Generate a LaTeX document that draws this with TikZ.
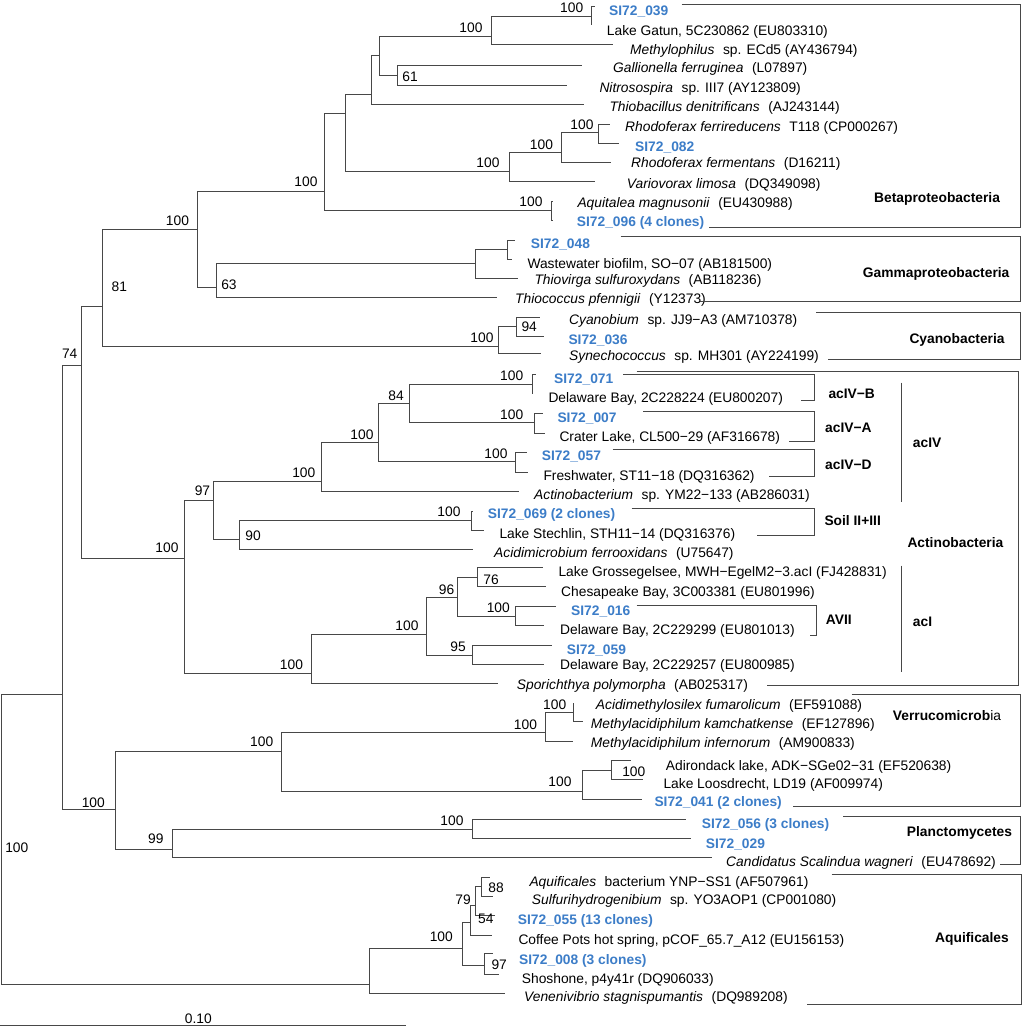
\documentclass[tikz,border=0pt]{standalone}
\usepackage{fontspec}
\setmainfont{Liberation Sans}
\definecolor{cloneblue}{RGB}{60,125,200}
\newcommand{\treefont}{\fontsize{13.8}{16}\selectfont}
\tikzstyle{branch} = [draw=black!72, line width=0.9pt]
\tikzstyle{taxon} = [anchor=base west, inner sep=0pt]
\tikzstyle{clone} = [taxon, text=cloneblue, font=\treefont\bfseries]
\tikzstyle{boot} = [anchor=base, inner sep=0pt]
\tikzstyle{clade} = [anchor=base west, inner sep=0pt, font=\treefont\bfseries]
\newcommand{\gap}{\hspace{8.5pt}}

\begin{document}
\begin{tikzpicture}[x=1pt, y=-1pt, font=\treefont]
\useasboundingbox (0,0) rectangle (1029,1027);
\fill[white] (0,0) rectangle (1029,1027);

% inner nodes of the tree
\coordinate (r) at (1,847);
\coordinate (nTop) at (62.7,694);
\coordinate (nAq) at (369.3,984);
\coordinate (n74) at (81.7,365);
\coordinate (nPV) at (115.7,809.3);
\coordinate (n81) at (102.3,306.7);
\coordinate (nAct) at (184,558);
\coordinate (nPro) at (197.7,229.3);
\coordinate (nCy) at (498,346);
\coordinate (nBeta) at (324.3,191);
\coordinate (n63) at (216.7,287.3);
\coordinate (nB1) at (345.3,113.3);
\coordinate (nAqt) at (551,210);
\coordinate (nB2) at (371.7,94.3);
\coordinate (nRh) at (509.3,171.7);
\coordinate (nB3) at (379.3,55);
\coordinate (nMe) at (491,36);
\coordinate (n61) at (397,75);
\coordinate (n039) at (591.7,16);
\coordinate (nRh2) at (561.7,152.7);
\coordinate (nRf) at (598.3,132.7);
\coordinate (nG1) at (475.7,263);
\coordinate (n048) at (507,249);
\coordinate (n94) at (516,326.5);
\coordinate (n97) at (213.3,500);
\coordinate (nAcI0) at (311.7,673);
\coordinate (nIV) at (321.7,481);
\coordinate (n90) at (239,539);
\coordinate (nIV2) at (378.3,442.3);
\coordinate (n84) at (409.3,403.5);
\coordinate (n057) at (515,461.7);
\coordinate (n071) at (532,384.3);
\coordinate (n007) at (534.3,422.7);
\coordinate (nSoil) at (471,520);
\coordinate (nAcI) at (426.7,634);
\coordinate (n96) at (457.7,597.3);
\coordinate (n95) at (472.7,655);
\coordinate (n76) at (477.7,577.7);
\coordinate (nAVII) at (515.5,616.7);
\coordinate (nVer) at (281.7,751.7);
\coordinate (n99) at (172.3,849);
\coordinate (nV1) at (545,732.7);
\coordinate (nV2) at (582.3,791);
\coordinate (nV3) at (573.3,712.7);
\coordinate (nV4) at (611.7,770);
\coordinate (nPl) at (472.7,829.3);
\coordinate (nAq1) at (462.3,948);
\coordinate (n54) at (470,922);
\coordinate (n97b) at (484,965);
\coordinate (n79) at (475,905);
\coordinate (n88) at (481.7,886.7);

% leaves: branch tip, then its label
\coordinate (l1) at (595,6);        \node[clone] (t1) at (609,16) {SI72\_039};
\coordinate (l2) at (591.7,25);     \node[taxon] (t2) at (606.7,36) {Lake Gatun, 5C230862 (EU803310)};
\coordinate (l3) at (613.3,44);     \node[taxon] (t3) at (630,55) {\textit{Methylophilus}\gap sp. ECd5 (AY436794)};
\coordinate (l4) at (581.7,65.7);   \node[taxon] (t4) at (613,73) {\textit{Gallionella ferruginea}\gap (L07897)};
\coordinate (l5) at (566.7,85.3);   \node[taxon] (t5) at (599.3,93) {\textit{Nitrosospira}\gap sp. III7 (AY123809)};
\coordinate (l6) at (584,104.3);    \node[taxon] (t6) at (609.3,112) {\textit{Thiobacillus denitrificans}\gap (AJ243144)};
\coordinate (l7) at (610,124);      \node[taxon] (t7) at (625,132) {\textit{Rhodoferax ferrireducens}\gap T118 (CP000267)};
\coordinate (l8) at (619.3,143.3);  \node[clone] (t8) at (635,152) {SI72\_082};
\coordinate (l9) at (611,162.5);    \node[taxon] (t9) at (631,168) {\textit{Rhodoferax fermentans}\gap (D16211)};
\coordinate (l10) at (595,181.7);   \node[taxon] (t10) at (626.7,188.7) {\textit{Variovorax limosa}\gap (DQ349098)};
\coordinate (l11) at (553,201);     \node[taxon] (t11) at (577.3,207.3) {\textit{Aquitalea magnusonii}\gap (EU430988)};
\coordinate (l12) at (553,220);     \node[clone] (t12) at (576.7,226.7) {SI72\_096 (4 clones)};
\coordinate (l13) at (515,240);     \node[clone] (t13) at (530.7,248.3) {SI72\_048};
\coordinate (l14) at (511.7,259.3); \node[taxon] (t14) at (527.3,268.3) {Wastewater biofilm, SO−07 (AB181500)};
\coordinate (l15) at (518.3,278.5); \node[taxon] (t15) at (534.3,285) {\textit{Thiovirga sulfuroxydans}\gap (AB118236)};
\coordinate (l16) at (496.7,297.7); \node[taxon] (t16) at (515,303.3) {\textit{Thiococcus pfennigii}\gap (Y12373)};
\coordinate (l17) at (540,317.5);   \node[taxon] (t17) at (569,325) {\textit{Cyanobium}\gap sp. JJ9−A3 (AM710378)};
\coordinate (l18) at (544.3,336.5); \node[clone] (t18) at (568.3,344.3) {SI72\_036};
\coordinate (l19) at (540.7,353);   \node[taxon] (t19) at (569,360.7) {\textit{Synechococcus}\gap sp. MH301 (AY224199)};
\coordinate (l20) at (536,374);     \node[clone] (t20) at (554,383.3) {SI72\_071};
\coordinate (l21) at (532,394);     \node[taxon] (t21) at (548.3,402.7) {Delaware Bay, 2C228224 (EU800207)};
\coordinate (l22) at (543.3,413.5); \node[clone] (t22) at (557.3,422.3) {SI72\_007};
\coordinate (l23) at (545,433.3);   \node[taxon] (t23) at (559.3,441) {Crater Lake, CL500−29 (AF316678)};
\coordinate (l24) at (526.7,452.7); \node[clone] (t24) at (541.7,460.7) {SI72\_057};
\coordinate (l25) at (528.3,472.3); \node[taxon] (t25) at (543.3,480) {Freshwater, ST11−18 (DQ316362)};
\coordinate (l26) at (519.3,491.7); \node[taxon] (t26) at (534,499.3) {\textit{Actinobacterium}\gap sp. YM22−133 (AB286031)};
\coordinate (l27) at (472.7,511);   \node[clone] (t27) at (487.7,518.3) {SI72\_069 (2 clones)};
\coordinate (l28) at (484,530);     \node[taxon] (t28) at (499.3,538.3) {Lake Stechlin, STH11−14 (DQ316376)};
\coordinate (l29) at (472.7,549.3); \node[taxon] (t29) at (494,557.3) {\textit{Acidimicrobium ferrooxidans}\gap (U75647)};
\coordinate (l30) at (542.7,567.7); \node[taxon] (t30) at (558.3,576.7) {Lake Grossegelsee, MWH−EgelM2−3.acI (FJ428831)};
\coordinate (l31) at (546,586.7);   \node[taxon] (t31) at (561,596) {Chesapeake Bay, 3C003381 (EU801996)};
\coordinate (l32) at (556,606.7);   \node[clone] (t32) at (571,615) {SI72\_016};
\coordinate (l33) at (544.3,625);   \node[taxon] (t33) at (560,634.3) {Delaware Bay, 2C229299 (EU801013)};
\coordinate (l34) at (551.7,645);   \node[clone] (t34) at (566.7,654) {SI72\_059};
\coordinate (l35) at (544.3,664);   \node[taxon] (t35) at (560,669.3) {Delaware Bay, 2C229257 (EU800985)};
\coordinate (l36) at (497.7,683.3); \node[taxon] (t36) at (516.7,689) {\textit{Sporichthya polymorpha}\gap (AB025317)};
\coordinate (l37) at (573.3,703.3); \node[taxon] (t37) at (595.7,709) {\textit{Acidimethylosilex fumarolicum}\gap (EF591088)};
\coordinate (l38) at (583.3,721.7); \node[taxon] (t38) at (590.7,728.3) {\textit{Methylacidiphilum kamchatkense}\gap (EF127896)};
\coordinate (l39) at (573.3,741);   \node[taxon] (t39) at (590.7,747.7) {\textit{Methylacidiphilum infernorum}\gap (AM900833)};
\coordinate (l40) at (631,760.7);   \node[taxon] (t40) at (665.7,770.7) {Adirondack lake, ADK−SGe02−31 (EF520638)};
\coordinate (l41) at (643.3,779.3); \node[taxon] (t41) at (663.3,788.3) {Lake Loosdrecht, LD19 (AF009974)};
\coordinate (l42) at (641.7,799);   \node[clone] (t42) at (654.3,806.7) {SI72\_041 (2 clones)};
\coordinate (l43) at (685.7,819);   \node[clone] (t43) at (701.7,828.3) {SI72\_056 (3 clones)};
\coordinate (l44) at (691,838.3);   \node[clone] (t44) at (705.7,848.3) {SI72\_029};
\coordinate (l45) at (711.7,857);   \node[taxon] (t45) at (726,866) {\textit{Candidatus Scalindua wagneri}\gap (EU478692)};
\coordinate (l46) at (490,877.3);   \node[taxon] (t46) at (529.3,886) {\textit{Aquificales}\gap bacterium YNP−SS1 (AF507961)};
\coordinate (l47) at (493.3,896);   \node[taxon] (t47) at (531.7,904.3) {\textit{Sulfurihydrogenibium}\gap sp. YO3AOP1 (CP001080)};
\coordinate (l48) at (495,915);     \node[clone] (t48) at (517.7,924) {SI72\_055 (13 clones)};
\coordinate (l49) at (491.7,935);   \node[taxon] (t49) at (518.3,944.3) {Coffee Pots hot spring, pCOF\_65.7\_A12 (EU156153)};
\coordinate (l50) at (493.3,953.3); \node[clone] (t50) at (519,964) {SI72\_008 (3 clones)};
\coordinate (l51) at (499.3,974);   \node[taxon] (t51) at (521.7,983.3) {Shoshone, p4y41r (DQ906033)};
\coordinate (l52) at (505,993.3);   \node[taxon] (t52) at (524,1001.7) {\textit{Venenivibrio stagnispumantis}\gap (DQ989208)};

% branches
\draw[branch] (r) |- (nTop) (r) |- (nAq);
\draw[branch] (nTop) |- (n74) (nTop) |- (nPV);
\draw[branch] (n74) |- (n81) (n74) |- (nAct);
\draw[branch] (n81) |- (nPro) (n81) |- (nCy);
\draw[branch] (nPro) |- (nBeta) (nPro) |- (n63);
\draw[branch] (nBeta) |- (nB1) (nBeta) |- (nAqt);
\draw[branch] (nB1) |- (nB2) (nB1) |- (nRh);
\draw[branch] (nB2) |- (nB3) (nB2) |- (l6);
\draw[branch] (nB3) |- (nMe) (nB3) |- (n61);
\draw[branch] (nMe) |- (n039) (nMe) |- (l3);
\draw[branch] (n039) |- (l1) (n039) |- (l2);
\draw[branch] (n61) |- (l4) (n61) |- (l5);
\draw[branch] (nRh) |- (nRh2) (nRh) |- (l10);
\draw[branch] (nRh2) |- (nRf) (nRh2) |- (l9);
\draw[branch] (nRf) |- (l7) (nRf) |- (l8);
\draw[branch] (nAqt) |- (l11) (nAqt) |- (l12);
\draw[branch] (n63) |- (nG1) (n63) |- (l16);
\draw[branch] (nG1) |- (n048) (nG1) |- (l15);
\draw[branch] (n048) |- (l13) (n048) |- (l14);
\draw[branch] (nCy) |- (n94) (nCy) |- (l19);
\draw[branch] (n94) |- (l17) (n94) |- (l18);
\draw[branch] (nAct) |- (n97) (nAct) |- (nAcI0);
\draw[branch] (n97) |- (nIV) (n97) |- (n90);
\draw[branch] (nIV) |- (nIV2) (nIV) |- (l26);
\draw[branch] (nIV2) |- (n84) (nIV2) |- (n057);
\draw[branch] (n84) |- (n071) (n84) |- (n007);
\draw[branch] (n071) |- (l20) (n071) |- (l21);
\draw[branch] (n007) |- (l22) (n007) |- (l23);
\draw[branch] (n057) |- (l24) (n057) |- (l25);
\draw[branch] (n90) |- (nSoil) (n90) |- (l29);
\draw[branch] (nSoil) |- (l27) (nSoil) |- (l28);
\draw[branch] (nAcI0) |- (nAcI) (nAcI0) |- (l36);
\draw[branch] (nAcI) |- (n96) (nAcI) |- (n95);
\draw[branch] (n96) |- (n76) (n96) |- (nAVII);
\draw[branch] (n76) |- (l30) (n76) |- (l31);
\draw[branch] (nAVII) |- (l32) (nAVII) |- (l33);
\draw[branch] (n95) |- (l34) (n95) |- (l35);
\draw[branch] (nPV) |- (nVer) (nPV) |- (n99);
\draw[branch] (nVer) |- (nV1) (nVer) |- (nV2);
\draw[branch] (nV1) |- (nV3) (nV1) |- (l39);
\draw[branch] (nV3) |- (l37) (nV3) |- (l38);
\draw[branch] (nV2) |- (nV4) (nV2) |- (l42);
\draw[branch] (nV4) |- (l40) (nV4) |- (l41);
\draw[branch] (n99) |- (nPl) (n99) |- (l45);
\draw[branch] (nPl) |- (l43) (nPl) |- (l44);
\draw[branch] (nAq) |- (nAq1) (nAq) |- (l52);
\draw[branch] (nAq1) |- (n54) (nAq1) |- (n97b);
\draw[branch] (n54) |- (n79) (n54) |- (l49);
\draw[branch] (n79) |- (n88) (n79) |- (l48);
\draw[branch] (n88) |- (l46) (n88) |- (l47);
\draw[branch] (n97b) |- (l50) (n97b) |- (l51);

% bootstrap values
\node[boot] (b1) at (571.7,12.3) {100};
\node[boot] (b2) at (471,33) {100};
\node[boot] (b3) at (410,82) {61};
\node[boot] (b4) at (582,129.3) {100};
\node[boot] (b5) at (541.5,149.3) {100};
\node[boot] (b6) at (488,168) {100};
\node[boot] (b7) at (306,187) {100};
\node[boot] (b8) at (177.5,225.7) {100};
\node[boot] (b9) at (531,206.7) {100};
\node[boot] (b10) at (229,289.3) {63};
\node[boot] (b11) at (119.3,291.7) {81};
\node[boot] (b12) at (69.7,359) {74};
\node[boot] (b13) at (482,342.7) {100};
\node[boot] (b14) at (529.2,331.7) {94};
\node[boot] (b15) at (396,400.7) {84};
\node[boot] (b16) at (511.7,380.7) {100};
\node[boot] (b17) at (511.7,419.5) {100};
\node[boot] (b18) at (362,439) {100};
\node[boot] (b19) at (303.8,477.3) {100};
\node[boot] (b20) at (202.5,495) {97};
\node[boot] (b21) at (496,458.3) {100};
\node[boot] (b22) at (449,516.7) {100};
\node[boot] (b23) at (253,540) {90};
\node[boot] (b24) at (167,552.7) {100};
\node[boot] (b25) at (491,584) {76};
\node[boot] (b26) at (446.5,594.3) {96};
\node[boot] (b27) at (498.3,612.7) {100};
\node[boot] (b28) at (407,630.7) {100};
\node[boot] (b29) at (458,651) {95};
\node[boot] (b30) at (291.5,669) {100};
\node[boot] (b31) at (554.7,709) {100};
\node[boot] (b32) at (525.5,729) {100};
\node[boot] (b33) at (261.7,746.7) {100};
\node[boot] (b34) at (633.8,776) {100};
\node[boot] (b35) at (560,786.7) {100};
\node[boot] (b36) at (93.3,807.3) {100};
\node[boot] (b37) at (452,825.7) {100};
\node[boot] (b38) at (155.8,843.3) {99};
\node[boot] (b39) at (16.8,852.7) {100};
\node[boot] (b40) at (496,892.3) {88};
\node[boot] (b41) at (463,904.3) {79};
\node[boot] (b42) at (485.8,923.3) {54};
\node[boot] (b43) at (441.3,941.7) {100};
\node[boot] (b44) at (499.2,969) {97};

% groups
\draw[branch] (681.7,4) -| (1020,227.7) -- (709.3,227.7);
\draw[branch] (620.7,236.7) -| (1020,301) -- (700,301);
\draw[branch] (816,312.3) -| (1020,359.3) -- (828.3,359.3);
\draw[branch] (636.7,371.7) -| (1018.3,685) -- (766.7,685);
\draw[branch] (623.3,374) -| (814,400) -- (800.7,400);
\draw[branch] (643.3,411.7) -| (814,441) -- (789.3,441);
\draw[branch] (612.7,449.3) -| (814,476.7) -- (769.3,476.7);
\draw[branch] (631.7,508.3) -| (814,535) -- (757.3,535);
\draw[branch] (636.7,605) -| (816,635.7) -- (810,635.7);
\draw[branch] (901,382.7) -- (901,501.7);
\draw[branch] (901,565.7) -- (901,671.7);
\draw[branch] (851.7,694) -| (1020,806) -- (792.7,806);
\draw[branch] (843.3,816) -| (1020,864.3) -- (1000,864.3);
\draw[branch] (831.7,874) -| (1021,1004) -- (807.3,1004);

\node[clade] (beta) at (874,202.3) {Betaproteobacteria};
\node[clade] (gamma) at (862.7,277.7) {Gammaproteobacteria};
\node[clade] (cyano) at (909.3,344) {Cyanobacteria};
\node[clade] (acIVB) at (828.3,398.3) {acIV−B};
\node[clade] (acIVA) at (825,432.3) {acIV−A};
\node[clade] (acIVD) at (825,469) {acIV−D};
\node[clade] (acIV) at (912.7,447.7) {acIV};
\node[clade] (soil) at (824.3,525) {Soil II+III};
\node[clade] (actino) at (907.3,547.7) {Actinobacteria};
\node[clade] (acI) at (912.7,626) {acI};
\node[clade] (avii) at (825.7,624.3) {AVII};
\node[clade] (verruco) at (892.7,720.7) {Verrucomicrob\mdseries ia};
\node[clade] (plancto) at (906.7,836) {Planctomycetes};
\node[clade] (aquif) at (935,942.3) {Aquificales};

% scale bar
\coordinate (s0) at (0,1025.7);
\coordinate (s1) at (406,1025.7);
\draw[branch] (s0) -- (s1);
\node[boot] (scale) at (198.3,1023.5) {0.10};
\end{tikzpicture}
\end{document}
